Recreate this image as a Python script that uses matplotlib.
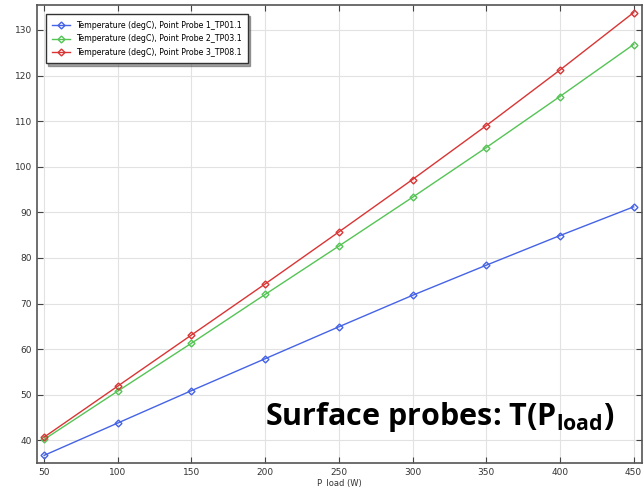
import matplotlib.pyplot as plt

p_load = [50, 100, 150, 200, 250, 300, 350, 400, 450]
probe1 = [36.7, 43.8, 50.9, 57.9, 64.9, 71.8, 78.4, 84.9, 91.2]
probe2 = [40.2, 50.8, 61.3, 72.0, 82.6, 93.3, 104.2, 115.4, 126.8]
probe3 = [40.7, 51.9, 63.1, 74.3, 85.7, 97.2, 109.0, 121.2, 133.8]
labels = ['Temperature (degC), Point Probe 1_TP01.1',
          'Temperature (degC), Point Probe 2_TP03.1',
          'Temperature (degC), Point Probe 3_TP08.1']
colors = ['#4563e6', '#55c455', '#d93535']

plt.rcParams['mathtext.fontset'] = 'custom'
plt.rcParams['mathtext.rm'] = 'Open Sans:bold'
plt.rcParams['mathtext.bf'] = 'Open Sans:bold'

fig = plt.figure(figsize=(6.44, 4.87), dpi=100)
ax = fig.add_axes([0.0575, 0.049, 0.94, 0.941])

for ys, lab, c in zip([probe1, probe2, probe3], labels, colors):
    ax.plot(p_load, ys, color=c, lw=1, marker='D', ms=3.5,
            mfc='none', mew=1, label=lab)

ax.set_xlim(45.2, 456)
ax.set_ylim(35, 135.5)
ax.set_xticks(range(50, 451, 50))
ax.set_yticks(range(40, 131, 10))
ax.tick_params(direction='in', labelsize=6.5, top=True, right=True,
               length=4, colors='#444444', labelcolor='#333333')
for s in ax.spines.values():
    s.set_color('#555555')
    s.set_linewidth(1.2)
ax.grid(True, color='#e2e2e2', lw=0.8)
ax.set_xlabel('P_load (W)', fontsize=6, labelpad=1, color='#333333')

leg = ax.legend(loc='upper left', fontsize=5.7, frameon=True, fancybox=False,
                shadow={'ox': 1.5, 'oy': -1.5}, bbox_to_anchor=(0.008, 0.988),
                borderpad=0.8, handlelength=2.2, labelspacing=0.6)
leg.get_frame().set_edgecolor('#333333')

fig.text(0.411, 0.127, r'Surface probes: T(P$_{\mathrm{load}}$)',
         fontsize=22, fontweight='bold', family='Open Sans', ha='left',
         va='baseline')

fig.savefig('out.png', dpi=100)
